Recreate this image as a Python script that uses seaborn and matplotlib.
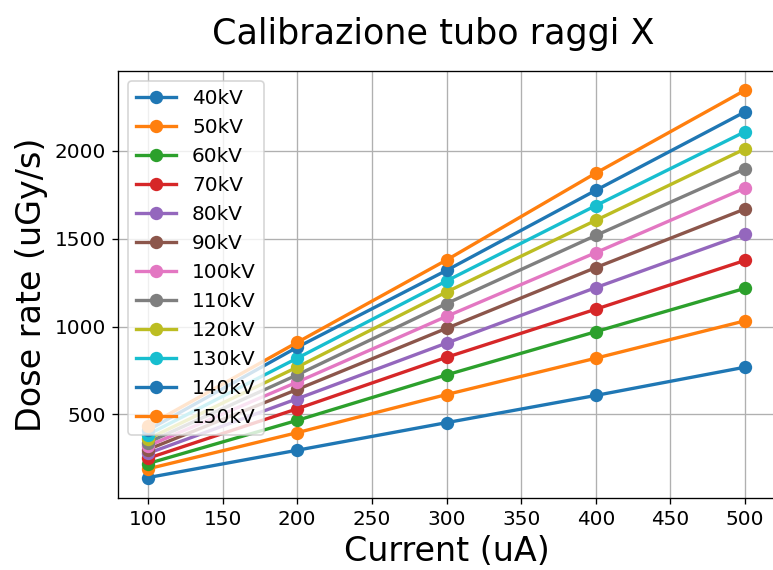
import matplotlib
matplotlib.use("Agg")
import matplotlib.pyplot as plt
import seaborn as sns
import pandas as pd

current = [100, 200, 300, 400, 500]
voltages = ["40kV", "50kV", "60kV", "70kV", "80kV", "90kV",
            "100kV", "110kV", "120kV", "130kV", "140kV", "150kV"]
dose_40 = [140, 296, 453, 608, 769]
dose_50 = [190, 396, 613, 820, 1033]
dose_60 = [220, 466, 725, 971, 1218]
dose_70 = [250, 532, 825, 1099, 1377]
dose_80 = [278, 589, 906, 1222, 1528]
dose_90 = [300, 642, 990, 1336, 1670]
dose_100 = [320, 684, 1058, 1421, 1789]
dose_110 = [340, 725, 1131, 1519, 1898]
dose_120 = [360, 769, 1197, 1605, 2012]
dose_130 = [385, 820, 1260, 1689, 2110]
dose_140 = [410, 882, 1320, 1776, 2223]
dose_150 = [435, 910, 1379, 1874, 2346]
doses = [dose_40, dose_50, dose_60, dose_70, dose_80, dose_90,
         dose_100, dose_110, dose_120, dose_130, dose_140, dose_150]

rows = []
for v, d in zip(voltages, doses):
    for c, val in zip(current, d):
        rows.append({"Current": c, "Dose": val, "Voltage": v})
df = pd.DataFrame(rows)

tab10 = sns.color_palette("tab10")
palette = list(tab10) + [tab10[0], tab10[1]]

dpi = 120
fig = plt.figure(figsize=(773 / dpi, 570 / dpi), dpi=dpi)
ax = fig.add_axes([118 / 773, 72 / 570, 657 / 773, 427.3 / 570])

sns.lineplot(data=df, x="Current", y="Dose", hue="Voltage",
             hue_order=voltages, palette=palette, marker="o",
             markersize=8, markeredgewidth=0, linewidth=2,
             legend=False, ax=ax)

ax.grid(True, color="#b0b0b0", linewidth=0.8)
ax.set_axisbelow(True)
ax.tick_params(labelsize=12)
ax.set_xlabel("Current (uA)", fontsize=20)
ax.set_ylabel("Dose rate (uGy/s)", fontsize=20)
ax.set_xticks([100, 150, 200, 250, 300, 350, 400, 450, 500])
ax.set_yticks([500, 1000, 1500, 2000])
ax.set_xlim(80, 520)
ax.set_ylim(24, 2457)
fig.text(433.5 / 773, 1 - 44.3 / 570, "Calibrazione tubo raggi X",
         fontsize=21, ha="center", va="baseline")

ax.legend(ax.get_lines()[:len(voltages)], voltages, loc="upper left", fontsize=12)

fig.savefig("out.png", dpi=dpi)
